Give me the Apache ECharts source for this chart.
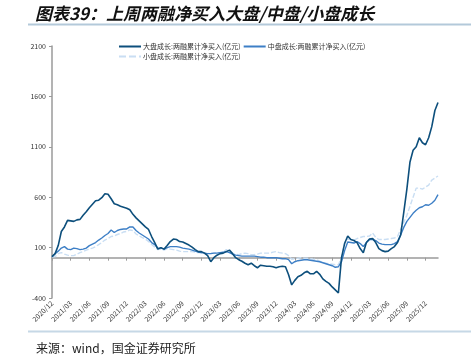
<!DOCTYPE html>
<html><head><meta charset="utf-8">
<script src="https://cdn.jsdelivr.net/npm/echarts@6/dist/echarts.min.js"></script>
<style>html,body{margin:0;padding:0;background:#fff}#c{width:471px;height:355px}</style>
</head><body><div id="c"></div>
<script>
// Half-month sampling from 2020/12 to 2026/02 (first half)
const startYear = 2020, startMonth = 12, nPoints = 125;
const categories = [];
for (let i = 0; i < nPoints; i++) {
  const m0 = (startMonth - 1) + Math.floor(i / 2);
  const y = startYear + Math.floor(m0 / 12);
  const m = (m0 % 12) + 1;
  categories.push(y + '/' + String(m).padStart(2, '0') + '/' + (i % 2 === 0 ? '01' : '16'));
}
const seriesNames = ['大盘成长:两融累计净买入(亿元)', '中盘成长:两融累计净买入(亿元)', '小盘成长:两融累计净买入(亿元)'];
const largeGrowth = [10,40,120,260,305,370,365,360,375,380,420,455,495,530,565,570,595,635,630,585,
  535,525,510,500,490,475,430,395,365,335,305,280,210,150,85,100,85,120,160,185,
  180,160,155,140,125,105,80,60,60,45,20,-40,0,25,40,45,60,75,40,0,
  -20,-35,-55,-70,-55,-80,-100,-75,-80,-85,-85,-90,-100,-90,-85,-90,-170,-270,-225,-190,
  -175,-150,-135,-160,-160,-135,-165,-210,-235,-255,-290,-320,-350,0,140,215,180,170,150,90,
  50,150,185,190,150,90,70,60,65,90,110,150,225,450,680,950,1065,1100,1190,1140,
  1120,1190,1300,1460,1540];
const midGrowth = [10,40,65,95,110,85,80,95,90,80,85,95,120,135,150,175,195,220,240,275,
  250,270,280,285,285,305,305,270,245,225,205,185,150,130,95,95,85,100,110,110,
  110,105,95,90,85,75,65,55,50,45,40,40,45,45,50,55,60,50,35,25,
  20,15,15,15,15,15,10,5,5,0,0,0,0,-5,-10,-10,-20,-60,-40,-30,
  -25,-20,-20,-25,-30,-35,-40,-50,-60,-70,-80,-95,-90,-40,70,155,150,145,160,140,
  110,150,180,180,170,145,135,130,130,130,140,160,225,300,360,400,440,470,495,505,
  525,520,540,570,625];
const smallGrowth = [5,10,40,50,35,25,20,20,35,50,60,75,85,95,110,130,150,175,190,210,
  215,230,240,255,260,275,270,235,215,200,185,160,130,105,80,85,75,90,85,80,
  75,65,60,60,60,60,55,50,45,40,40,45,45,50,45,55,80,60,45,35,
  30,40,45,40,30,30,35,45,45,45,45,55,60,50,45,40,20,-15,-10,-5,
  0,-5,-5,-10,-15,-20,-35,-50,-55,-60,-65,-70,-70,0,150,185,180,175,190,200,
  210,210,215,245,200,180,180,180,185,190,195,210,280,350,420,510,600,690,690,680,
  700,720,770,790,810];
const yTicks = {min: -400, max: 2100, interval: 500};

const chart = echarts.init(document.getElementById('c'), null, {renderer: 'canvas'});
const axisGray = '#9a9a9a';
const fontCJK = '"Noto Sans CJK SC", "Noto Sans", sans-serif';
const colors = ['#0d4f7c', '#3d7fc6', '#c9def3'];
const solidIcon = 'path://M0,0H22V2H0Z';
const dashIcon = 'path://M0,0H7V2H0Z M10,0H17V2H10Z M20,0H22V2H20Z';
chart.setOption({
  animation: false,
  textStyle: {fontFamily: fontCJK},
  title: [
    {text: '图表39：上周两融净买入大盘/中盘/小盘成长', left: 30, top: 0,
     textStyle: {fontSize: 17, fontStyle: 'italic', fontWeight: 'bold', color: '#111', fontFamily: fontCJK}},
    {text: '来源：wind，国金证券研究所', left: 31, top: 337,
     textStyle: {fontSize: 12, fontWeight: 'normal', color: '#222', fontFamily: fontCJK}}
  ],
  graphic: [
    {type: 'line', shape: {x1: 28, y1: 24.5, x2: 471, y2: 24.5}, style: {stroke: '#b3c9da', lineWidth: 2}},
    {type: 'line', shape: {x1: 28, y1: 331.5, x2: 471, y2: 331.5}, style: {stroke: '#c6d8e6', lineWidth: 2}}
  ],
  legend: {
    left: 114, top: 38, width: 270, itemWidth: 22, itemHeight: 2, itemGap: 3,
    textStyle: {fontSize: 7, color: '#333', padding: [0, 0, 0, -3]},
    data: [
      {name: seriesNames[0], icon: solidIcon},
      {name: seriesNames[1], icon: solidIcon},
      {name: seriesNames[2], icon: dashIcon}
    ]
  },
  grid: {left: 52, right: 33, top: 46, bottom: 57, containLabel: false},
  xAxis: [
    {type: 'category', data: categories, boundaryGap: false,
     axisLine: {onZero: true, lineStyle: {color: axisGray, width: 1.5}},
     axisTick: {show: true, interval: 5, length: 3, lineStyle: {color: axisGray}},
     axisLabel: {show: false}},
    {type: 'category', data: categories, boundaryGap: false, position: 'bottom',
     axisLine: {show: false}, axisTick: {show: false},
     axisLabel: {show: true, interval: 5, rotate: 45, fontSize: 7, color: '#333', margin: 4,
       formatter: v => v.slice(0, 7)}}
  ],
  yAxis: {
    type: 'value', min: yTicks.min, max: yTicks.max, interval: yTicks.interval,
    splitLine: {show: false},
    axisLine: {show: true, lineStyle: {color: axisGray, width: 1.5}},
    axisTick: {show: true, length: 3, lineStyle: {color: axisGray}},
    axisLabel: {fontSize: 7, color: '#333', margin: 6, formatter: v => String(v)}
  },
  series: [
    {name: seriesNames[0], type: 'line', data: largeGrowth, symbol: 'none', xAxisIndex: 0,
     lineStyle: {color: colors[0], width: 1.6}, itemStyle: {color: colors[0]}, z: 3},
    {name: seriesNames[1], type: 'line', data: midGrowth, symbol: 'none', xAxisIndex: 0,
     lineStyle: {color: colors[1], width: 1.4}, itemStyle: {color: colors[1]}, z: 2},
    {name: seriesNames[2], type: 'line', data: smallGrowth, symbol: 'none', xAxisIndex: 0,
     lineStyle: {color: colors[2], width: 1.4, type: [5, 2]}, itemStyle: {color: colors[2]}, z: 1}
  ]
});
</script></body></html>
